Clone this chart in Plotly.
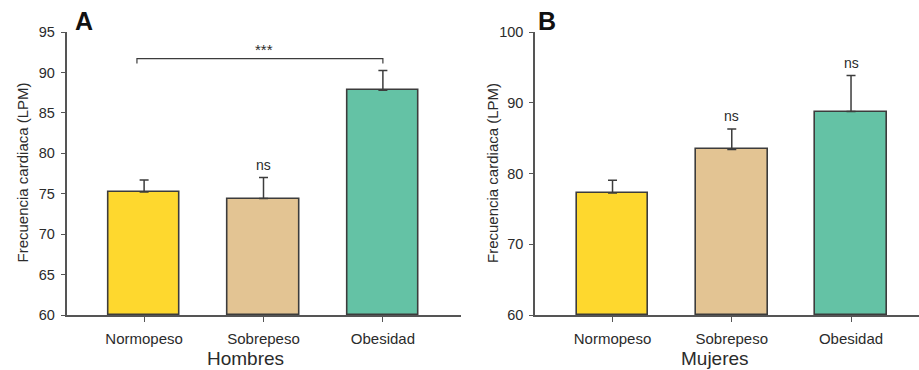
import plotly.graph_objects as go

# Heart rate (LPM) by BMI group, men (A) and women (B)
categories = ["Normopeso", "Sobrepeso", "Obesidad"]
colors = ["#FED82E", "#E3C493", "#64C2A5"]

men_mean = [75.2, 74.4, 87.8]
men_se = [1.5, 2.6, 2.45]
men_sig = ["", "ns", ""]

women_mean = [77.25, 83.4, 88.75]
women_se = [1.8, 2.9, 5.1]
women_sig = ["", "ns", "ns"]

# comparison bracket Normopeso vs Obesidad in men
bracket_x = [-0.06, -0.06, 2.0, 2.0]
bracket_y = [91.1, 91.7, 91.7, 91.1]
bracket_label = "***"

FONT = "Liberation Sans, Arial, sans-serif"
W, H = 919, 370
EDGE = "#3c3c3c"
AXIS = "#555555"
TXT = "#2b2b2b"

xpos = list(range(len(categories)))

fig = go.Figure()


def add_bars(means, ses, xa, ya):
    fig.add_trace(go.Bar(
        x=xpos, y=[m - 60 for m in means], base=60, width=0.6,
        marker=dict(color=colors, line=dict(color=EDGE, width=1.6)),
        error_y=dict(type="data", array=ses, arrayminus=[0] * len(ses),
                     symmetric=False, color=EDGE, thickness=1.5, width=4.5),
        xaxis=xa, yaxis=ya, showlegend=False, hoverinfo="skip",
    ))


add_bars(men_mean, men_se, "x", "y")
add_bars(women_mean, women_se, "x2", "y2")

fig.add_trace(go.Scatter(
    x=bracket_x, y=bracket_y, mode="lines",
    line=dict(color=EDGE, width=1.2), xaxis="x", yaxis="y",
    showlegend=False, hoverinfo="skip",
))

annotations = []
annotations.append(dict(x=1, y=bracket_y[1], xref="x", yref="y", text=bracket_label,
                        showarrow=False, yanchor="bottom", yshift=-1,
                        font=dict(family=FONT, size=15, color=TXT)))
for i, s in enumerate(men_sig):
    if s:
        annotations.append(dict(x=i, y=men_mean[i] + men_se[i], xref="x", yref="y",
                                text=s, showarrow=False, yanchor="bottom", yshift=3,
                                font=dict(family=FONT, size=14, color=TXT)))
for i, s in enumerate(women_sig):
    if s:
        annotations.append(dict(x=i, y=women_mean[i] + women_se[i], xref="x2", yref="y2",
                                text=s, showarrow=False, yanchor="bottom", yshift=3,
                                font=dict(family=FONT, size=14, color=TXT)))


def px(x, y):
    return x / W, (H - y) / H


# panel letters
for letter, (lx, ly) in (("A", (84, 21)), ("B", (546.5, 21.5))):
    ax, ay = px(lx, ly)
    annotations.append(dict(x=ax, y=ay, xref="paper", yref="paper", text=f"<b>{letter}</b>",
                            showarrow=False, xanchor="center", yanchor="middle",
                            font=dict(family=FONT, size=25, color="#111111")))

# group titles
for title, (tx, ty) in (("Hombres", (246, 358)), ("Mujeres", (715, 358))):
    ax, ay = px(tx, ty)
    annotations.append(dict(x=ax, y=ay, xref="paper", yref="paper", text=title,
                            showarrow=False, xanchor="center", yanchor="middle",
                            font=dict(family=FONT, size=19, color=TXT)))

# y titles
for tx in (22, 492.5):
    ax, ay = px(tx, 172.5)
    annotations.append(dict(x=ax, y=ay, xref="paper", yref="paper",
                            text="Frecuencia cardiaca (LPM)", textangle=-90,
                            showarrow=False, xanchor="center", yanchor="middle",
                            font=dict(family=FONT, size=15, color=TXT)))

ydom = [(H - 315) / H, (H - 32) / H]

xcommon = dict(tickmode="array", tickvals=xpos, ticktext=categories,
               ticks="outside", ticklen=5, tickwidth=1.2, tickcolor=AXIS,
               showline=True, linecolor=AXIS, linewidth=1.5,
               showgrid=False, zeroline=False, fixedrange=True,
               ticklabelstandoff=4, automargin=False,
               tickfont=dict(family=FONT, size=15, color=TXT))
ycommon = dict(ticks="outside", ticklen=4, tickwidth=1.2, tickcolor=AXIS,
               showline=True, linecolor=AXIS, linewidth=1.5,
               showgrid=False, zeroline=False, fixedrange=True,
               ticklabelstandoff=3, automargin=False,
               tickfont=dict(family=FONT, size=14.5, color=TXT))

fig.update_layout(
    width=W, height=H,
    margin=dict(l=0, r=0, t=0, b=0, autoexpand=False),
    paper_bgcolor="white", plot_bgcolor="white",
    bargap=0,
    xaxis=dict(domain=[66.5 / W, 460.5 / W], range=[-0.65, 2.65], anchor="y", **xcommon),
    yaxis=dict(domain=ydom, range=[60, 95], tickvals=[60, 65, 70, 75, 80, 85, 90, 95],
               anchor="x", **ycommon),
    xaxis2=dict(domain=[535 / W, 1.0], range=[-0.65, 2.57], anchor="y2", **xcommon),
    yaxis2=dict(domain=ydom, range=[60, 100], tickvals=[60, 70, 80, 90, 100],
                anchor="x2", **ycommon),
    annotations=annotations,
)

fig.write_html("out.html")
